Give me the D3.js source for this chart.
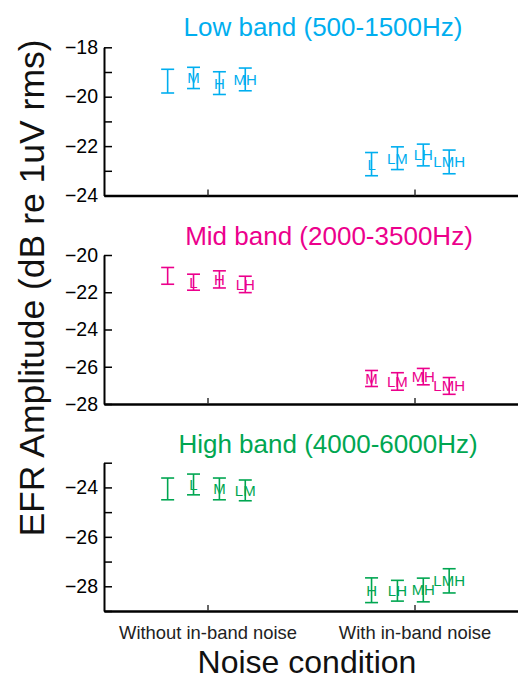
<!DOCTYPE html>
<html>
<head>
<meta charset="utf-8">
<script src="https://cdn.jsdelivr.net/npm/d3@7"></script>
<style>
  html, body { margin: 0; padding: 0; background: #fff; }
  svg { display: block; }
  text { font-family: "Liberation Sans", Arial, Helvetica, sans-serif; }
</style>
</head>
<body>
<svg id="chart" width="518" height="679"></svg>
<script>
// ---------- data ----------
const conditions = ["Without in-band noise", "With in-band noise"];
const bandTitles = ["Low band (500-1500Hz)", "Mid band (2000-3500Hz)", "High band (4000-6000Hz)"];
const bandColors = ["#00AEEF", "#EC008C", "#00A651"];

// each band: 8 points, first 4 = without in-band noise, last 4 = with in-band noise
const lowLabels  = ["", "M", "H", "MH", "L", "LM", "LH", "LMH"];
const lowMeans   = [-19.37, -19.24, -19.45, -19.30, -22.73, -22.49, -22.36, -22.64];
const lowErrs    = [0.48, 0.43, 0.46, 0.46, 0.47, 0.46, 0.44, 0.48];

const midLabels  = ["", "L", "H", "LH", "M", "LM", "MH", "LMH"];
const midMeans   = [-21.12, -21.46, -21.31, -21.58, -26.63, -26.79, -26.53, -27.03];
const midErrs    = [0.45, 0.43, 0.46, 0.44, 0.43, 0.47, 0.44, 0.45];

const highLabels = ["", "L", "M", "LM", "H", "LH", "MH", "LMH"];
const highMeans  = [-24.06, -23.88, -24.06, -24.12, -28.16, -28.18, -28.15, -27.78];
const highErrs   = [0.44, 0.42, 0.44, 0.42, 0.50, 0.42, 0.48, 0.49];

const yDomains   = [[-24, -18], [-28, -20], [-29, -23]];
const yTickVals  = [[-24, -23, -22, -21, -20, -19, -18],
                    [-28, -26, -24, -22, -20],
                    [-29, -28, -27, -26, -25, -24, -23]];
const yLabelVals = [[-24, -22, -20, -18], [-28, -26, -24, -22, -20], [-28, -26, -24]];

const yTitle = "EFR Amplitude (dB re 1uV rms)";
const xTitle = "Noise condition";

// ---------- layout ----------
const svg = d3.select("#chart");
const left = 104, right = 518;
const panels = [
  { top: 47.3, bottom: 195.5, titleY: 36, titleX: 323 },
  { top: 255, bottom: 404, titleY: 245, titleX: 329 },
  { top: 462.7, bottom: 611, titleY: 453, titleX: 328 }
];
const bandData = [
  { labels: lowLabels, means: lowMeans, errs: lowErrs },
  { labels: midLabels, means: midMeans, errs: midErrs },
  { labels: highLabels, means: highMeans, errs: highErrs }
];

const x = d3.scaleLinear().domain([0.5, 2.5]).range([left, right]);
const step = 0.125;          // spacing between conditions within a group
const groupShift = [0.005, 0.02];
const capW = 13;

panels.forEach((p, bi) => {
  const color = bandColors[bi];
  const y = d3.scaleLinear().domain(yDomains[bi]).range([p.bottom, p.top]);
  const g = svg.append("g");

  // y axis
  const labelSet = new Set(yLabelVals[bi]);
  const yAxis = d3.axisLeft(y)
    .tickValues(yTickVals[bi])
    .tickSizeInner(-8).tickSizeOuter(0).tickPadding(6)
    .tickFormat(d => labelSet.has(d) ? d3.format("d")(d).replace("-", "\u2212") : "");
  const ya = g.append("g").attr("transform", `translate(${left},0)`).call(yAxis);
  ya.select(".domain").attr("stroke", "#000").attr("stroke-width", 2);
  ya.selectAll(".tick line").attr("stroke", "#000").attr("stroke-width", 1.5);
  ya.selectAll(".tick text").attr("fill", "#000").style("font-size", "19.5px");

  // x axis
  const xAxis = d3.axisBottom(x)
    .tickValues([1, 2])
    .tickSizeInner(-6).tickSizeOuter(0).tickPadding(15)
    .tickFormat((d, i) => bi === 2 ? conditions[i] : "");
  const xa = g.append("g").attr("transform", `translate(0,${p.bottom})`).call(xAxis);
  xa.select(".domain").attr("stroke", "#000").attr("stroke-width", 2.5);
  xa.selectAll(".tick line").attr("stroke", "#333").attr("stroke-width", 1.5);
  xa.selectAll(".tick text").attr("fill", "#222").style("font-size", "18.4px");

  // title
  g.append("text")
    .attr("x", p.titleX).attr("y", p.titleY)
    .attr("text-anchor", "middle")
    .attr("fill", color)
    .style("font-size", "26px")
    .text(bandTitles[bi]);

  // error bars
  const d = bandData[bi];
  const pts = d.means.map((m, i) => {
    const grp = Math.floor(i / 4);
    const k = i % 4;
    return {
      xv: grp + 1 + (k - 1.5) * step - groupShift[grp],
      mean: m, err: d.errs[i], label: d.labels[i]
    };
  });
  const eb = g.append("g").attr("stroke", color).attr("stroke-width", 1.6).attr("fill", "none");
  pts.forEach(pt => {
    const cx = x(pt.xv);
    const y0 = y(pt.mean + pt.err), y1 = y(pt.mean - pt.err);
    eb.append("line").attr("x1", cx).attr("x2", cx).attr("y1", y0).attr("y2", y1);
    eb.append("line").attr("x1", cx - capW / 2).attr("x2", cx + capW / 2).attr("y1", y0).attr("y2", y0);
    eb.append("line").attr("x1", cx - capW / 2).attr("x2", cx + capW / 2).attr("y1", y1).attr("y2", y1);
  });
  g.append("g").selectAll("text").data(pts.filter(pt => pt.label)).join("text")
    .attr("x", pt => x(pt.xv))
    .attr("y", pt => y(pt.mean))
    .attr("dy", "0.36em")
    .attr("text-anchor", "middle")
    .attr("fill", color)
    .style("font-size", "15px")
    .text(pt => pt.label);
});

// axis titles
svg.append("text")
  .attr("transform", "translate(44,288) rotate(-90)")
  .attr("text-anchor", "middle")
  .attr("fill", "#111")
  .style("font-size", "35.5px")
  .text(yTitle);

svg.append("text")
  .attr("x", 307).attr("y", 673)
  .attr("text-anchor", "middle")
  .attr("fill", "#111")
  .style("font-size", "32px")
  .text(xTitle);
</script>
</body>
</html>
